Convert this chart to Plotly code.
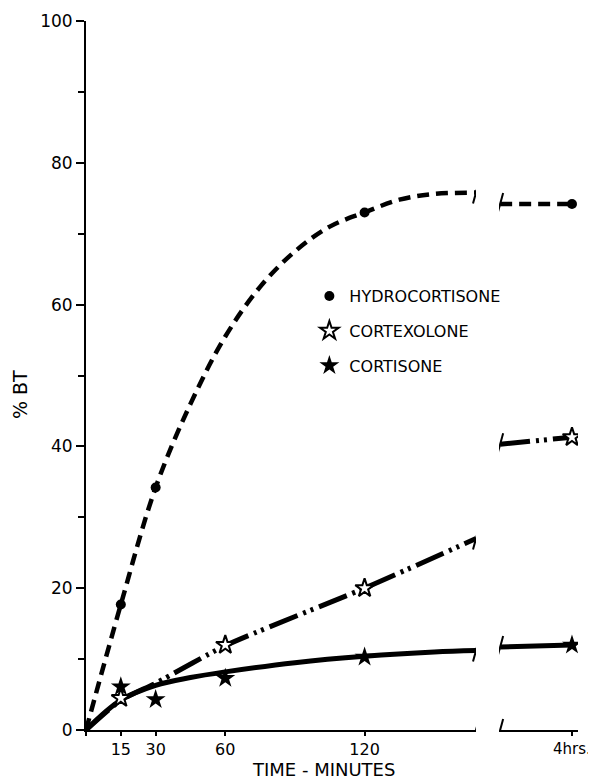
import plotly.graph_objects as go

# ---------------- data ----------------
# measured points
hydro_t = [15, 30, 120, 240]
hydro_v = [17.7, 34.2, 73.0, 74.2]
cortexolone_t = [15, 60, 120, 240]
cortexolone_v = [4.5, 12.0, 20.0, 41.3]
cortisone_t = [15, 30, 60, 120, 240]
cortisone_v = [6.1, 4.3, 7.3, 10.3, 12.0]

# hand-drawn curves (first panel: minutes, second panel: near 4 hrs)
hydro_curve_t = [0, 15, 30, 45, 60, 75, 90, 105, 120, 135, 150, 168]
hydro_curve_v = [0, 17.7, 34.2, 46.0, 55.5, 62.5, 67.5, 71.0, 73.0, 74.8, 75.6, 75.8]
hydro_late_t = [209, 240]
hydro_late_v = [74.2, 74.2]

cortexolone_curve_t = [0, 15, 30, 60, 120, 168]
cortexolone_curve_v = [0, 4.2, 6.6, 11.9, 20.0, 27.0]
cortexolone_late_t = [209, 240]
cortexolone_late_v = [40.3, 41.3]

cortisone_curve_t = [0, 15, 30, 45, 60, 90, 120, 150, 168]
cortisone_curve_v = [0, 4.2, 6.3, 7.4, 8.2, 9.5, 10.4, 11.0, 11.2]
cortisone_late_t = [209, 240]
cortisone_late_v = [11.7, 12.0]

x_ticks = [0, 15, 30, 60, 120]
x_ticktext = ["", "15", "30", "60", "120"]
x2_ticks = [240]
x2_ticktext = ["4hrs."]
y_ticks = [0, 20, 40, 60, 80, 100]

FONT = "DejaVu Sans"
BLACK = "black"

fig = go.Figure()

def curve(t, v, dash, xaxis, width=5, smoothing=1.0):
    fig.add_trace(go.Scatter(
        x=t, y=v, mode="lines", xaxis=xaxis, yaxis="y",
        line=dict(color=BLACK, width=width, dash=dash, shape="spline", smoothing=smoothing),
        showlegend=False, hoverinfo="skip"))

# curves
curve(hydro_curve_t, hydro_curve_v, "12px,7px", "x", width=4.5)
curve(hydro_late_t, hydro_late_v, "12px,7px", "x2", width=4.5)
curve(cortexolone_curve_t, cortexolone_curve_v, "30px,6px,3px,5px,3px,6px", "x", width=5, smoothing=0.6)
curve(cortexolone_late_t, cortexolone_late_v, "30px,6px,3px,5px,3px,6px", "x2", width=5)
curve(cortisone_curve_t, cortisone_curve_v, "solid", "x", width=5)
curve(cortisone_late_t, cortisone_late_v, "solid", "x2", width=5)

# points (split at the axis break)
def points(t, v, name, marker, group):
    early_t = [a for a in t if a <= 168]
    early_v = [b for a, b in zip(t, v) if a <= 168]
    late_t = [a for a in t if a > 168]
    late_v = [b for a, b in zip(t, v) if a > 168]
    fig.add_trace(go.Scatter(x=early_t, y=early_v, mode="markers", xaxis="x", yaxis="y",
                             marker=marker, name=name, legendgroup=group, showlegend=True))
    fig.add_trace(go.Scatter(x=late_t, y=late_v, mode="markers", xaxis="x2", yaxis="y",
                             marker=marker, name=name, legendgroup=group, showlegend=False))

points(hydro_t, hydro_v, "HYDROCORTISONE",
       dict(symbol="circle", size=10, color=BLACK), "g1")
points(cortexolone_t, cortexolone_v, "CORTEXOLONE",
       dict(symbol="star", size=14, color="white", line=dict(color=BLACK, width=2)), "g2")
points(cortisone_t, cortisone_v, "CORTISONE",
       dict(symbol="star", size=15, color=BLACK, line=dict(color=BLACK, width=0)), "g3")

# axis-break slashes at the curve ends and on the x axis
shapes = []
def slash(xref, xval, yval):
    shapes.append(dict(type="line", xref=xref, yref="y", xsizemode="pixel", ysizemode="pixel",
                       xanchor=xval, yanchor=yval, x0=-3, x1=3, y0=-11, y1=11,
                       line=dict(color=BLACK, width=2)))

slash("x", hydro_curve_t[-1], hydro_curve_v[-1])
slash("x", cortexolone_curve_t[-1], cortexolone_curve_v[-1])
slash("x", cortisone_curve_t[-1], cortisone_curve_v[-1])
slash("x", hydro_curve_t[-1], 0)
slash("x2", hydro_late_t[0], hydro_late_v[0])
slash("x2", cortexolone_late_t[0], cortexolone_late_v[0])
slash("x2", cortisone_late_t[0], cortisone_late_v[0])
slash("x2", hydro_late_t[0], 0)

axis_common = dict(showline=True, linecolor=BLACK, linewidth=2, ticks="outside",
                   tickcolor=BLACK, tickwidth=2, showgrid=False, zeroline=False,
                   automargin=False)

# the page body has an 8px margin, so the figure is 8px smaller than the window
fig.update_layout(
    width=588, height=773,
    margin=dict(l=78, r=18, t=13, b=51),
    paper_bgcolor="white", plot_bgcolor="white",
    font=dict(family=FONT, color=BLACK),
    xaxis=dict(domain=[0, 0.7927], range=[0, 168], tickvals=x_ticks, ticktext=x_ticktext,
               anchor="y", ticklen=4, tickfont=dict(family=FONT, size=16, color=BLACK),
               **axis_common),
    xaxis2=dict(domain=[0.8394, 1.0], range=[208.5, 242.6], tickvals=x2_ticks,
                ticktext=x2_ticktext, anchor="y", ticklen=4,
                tickfont=dict(family=FONT, size=15, color=BLACK), **axis_common),
    yaxis=dict(range=[0, 100], tickvals=y_ticks, anchor="x", ticklen=8,
               tickfont=dict(family=FONT, size=17, color=BLACK),
               minor=dict(dtick=10, ticks="outside", ticklen=6, tickwidth=2, tickcolor=BLACK),
               **axis_common),
    shapes=shapes,
    legend=dict(x=0.454, y=0.636, xanchor="left", yanchor="top", bgcolor="rgba(0,0,0,0)",
                font=dict(family=FONT, size=16, color=BLACK), tracegroupgap=11,
                itemwidth=30),
    annotations=[
        dict(text="TIME - MINUTES", xref="paper", yref="paper", x=0.482, y=-0.0564,
             xanchor="center", yanchor="middle", showarrow=False,
             font=dict(family=FONT, size=18, color=BLACK)),
        dict(text="% BT", xref="paper", yref="paper", x=-0.134, y=0.4725,
             xanchor="center", yanchor="middle", textangle=-90, showarrow=False,
             font=dict(family=FONT, size=19, color=BLACK)),
    ],
)

fig.write_html("out.html")
